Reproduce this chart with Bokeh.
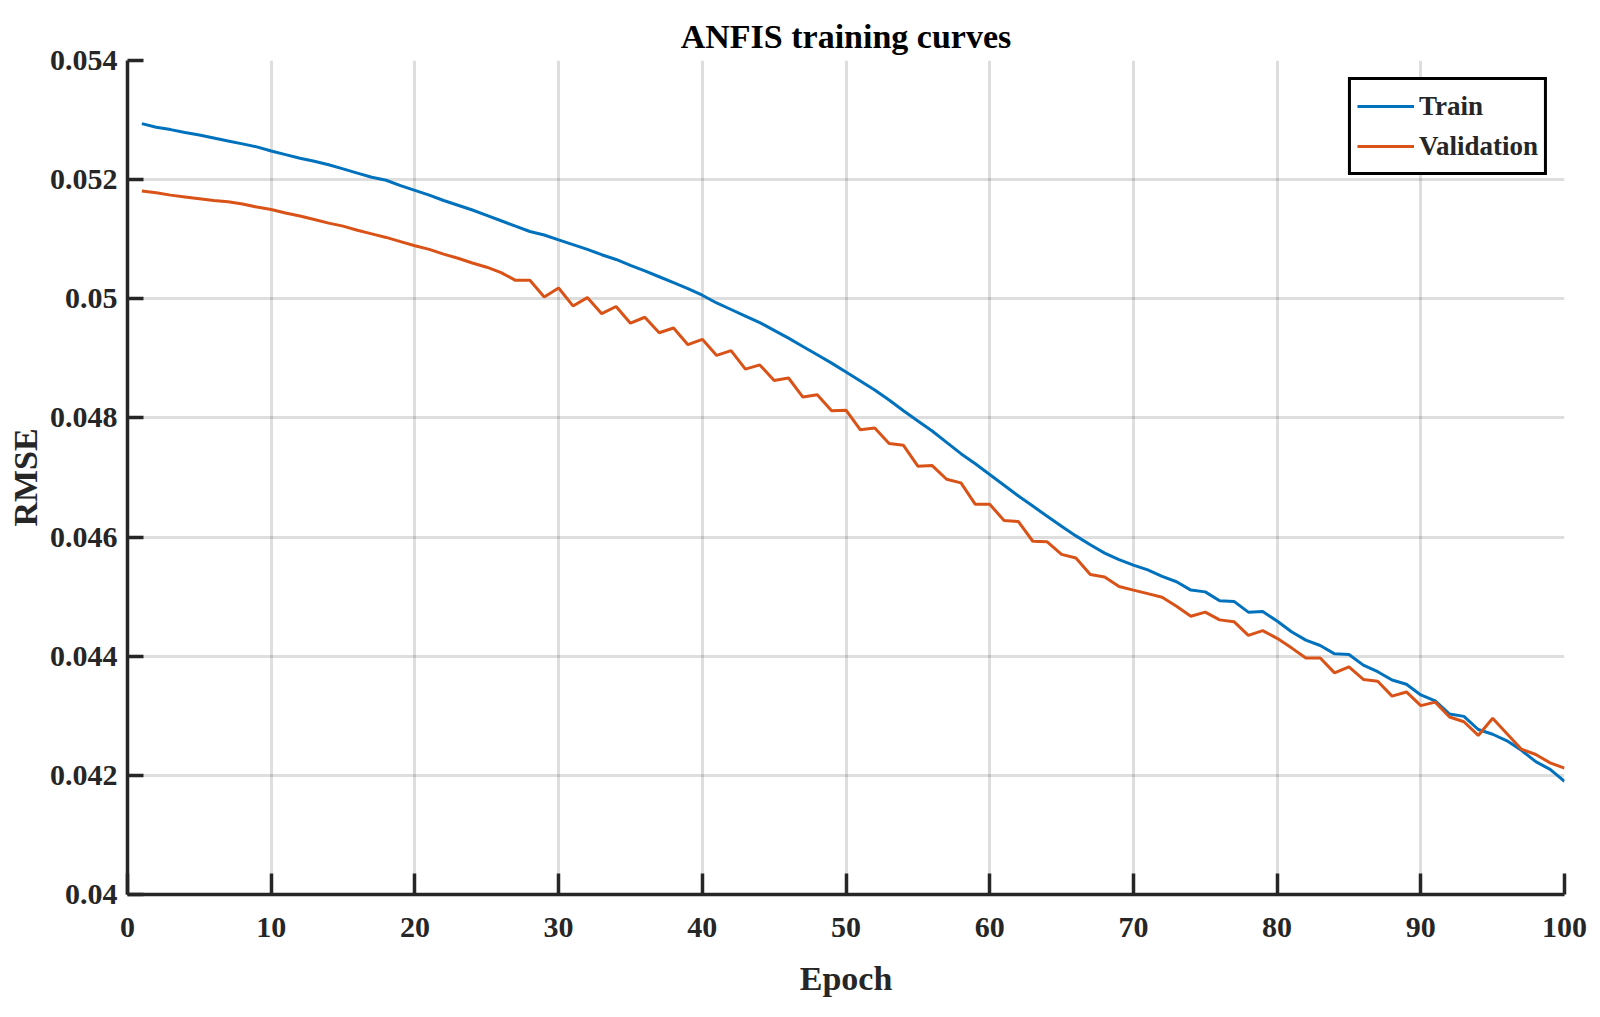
from bokeh.plotting import figure
from bokeh.models import FixedTicker, CustomJSTickFormatter, Range1d, Legend, LegendItem
from bokeh.embed import file_html
from bokeh.resources import INLINE

TITLE = "ANFIS training curves"
X_LABEL = "Epoch"
Y_LABEL = "RMSE"
SERIES_NAMES = ["Train", "Validation"]

epochs = list(range(1, 101))

train = [
    0.05294, 0.05288, 0.05284, 0.05279, 0.05275, 0.05270, 0.05265, 0.05260, 0.05255, 0.05248,
    0.05242, 0.05236, 0.05231, 0.05225, 0.05218, 0.05211, 0.05204, 0.05199, 0.05190, 0.05182,
    0.05174, 0.05165, 0.05157, 0.05149, 0.05140, 0.05131, 0.05122, 0.05113, 0.05107, 0.05099,
    0.05091, 0.05083, 0.05074, 0.05066, 0.05056, 0.05047, 0.05037, 0.05027, 0.05017, 0.05006,
    0.04993, 0.04982, 0.04971, 0.04960, 0.04947, 0.04934, 0.04920, 0.04906, 0.04892, 0.04877,
    0.04862, 0.04847, 0.04830, 0.04812, 0.04795, 0.04778, 0.04759, 0.04740, 0.04723, 0.04705,
    0.04687, 0.04669, 0.04652, 0.04635, 0.04618, 0.04602, 0.04587, 0.04573, 0.04562, 0.04553,
    0.04545, 0.04534, 0.04525, 0.04511, 0.04508, 0.04493, 0.04492, 0.04474, 0.04475, 0.04459,
    0.04441, 0.04427, 0.04418, 0.04404, 0.04403, 0.04385, 0.04374, 0.04360, 0.04353, 0.04335,
    0.04325, 0.04303, 0.04299, 0.04277, 0.04269, 0.04258, 0.04242, 0.04223, 0.04210, 0.04190,
]

validation = [
    0.05181, 0.05178, 0.05174, 0.05171, 0.05168, 0.05165, 0.05163, 0.05159, 0.05154, 0.05150,
    0.05144, 0.05139, 0.05133, 0.05127, 0.05122, 0.05115, 0.05109, 0.05103, 0.05096, 0.05089,
    0.05083, 0.05075, 0.05068, 0.05060, 0.05053, 0.05044, 0.05031, 0.05031, 0.05003, 0.05018,
    0.04988, 0.05002, 0.04975, 0.04987, 0.04959, 0.04969, 0.04943, 0.04951, 0.04923, 0.04932,
    0.04905, 0.04913, 0.04882, 0.04889, 0.04863, 0.04867, 0.04835, 0.04839, 0.04812, 0.04813,
    0.04780, 0.04783, 0.04757, 0.04754, 0.04719, 0.04720, 0.04697, 0.04691, 0.04655, 0.04655,
    0.04628, 0.04626, 0.04593, 0.04592, 0.04571, 0.04565, 0.04537, 0.04533, 0.04517, 0.04511,
    0.04505, 0.04499, 0.04484, 0.04467, 0.04474, 0.04461, 0.04458, 0.04435, 0.04443, 0.04430,
    0.04414, 0.04397, 0.04397, 0.04372, 0.04382, 0.04361, 0.04358, 0.04333, 0.04340, 0.04317,
    0.04323, 0.04298, 0.04290, 0.04267, 0.04296, 0.04270, 0.04244, 0.04235, 0.04221, 0.04212,
]

X_TICKS = [0, 10, 20, 30, 40, 50, 60, 70, 80, 90, 100]
Y_TICKS = [0.040, 0.042, 0.044, 0.046, 0.048, 0.050, 0.052, 0.054]

FONT = "Liberation Serif"
AX_COL = "#262626"

p = figure(
    width=1600, height=1012,
    x_range=Range1d(0, 100), y_range=Range1d(0.040, 0.054),
    output_backend="svg", toolbar_location=None,
    min_border_left=127, min_border_right=36, min_border_top=60, min_border_bottom=118,
)
p.outline_line_color = None
p.background_fill_color = "white"
p.border_fill_color = "white"

p.title.text = TITLE
p.title.align = "center"
p.title.text_font = FONT
p.title.text_font_style = "bold"
p.title.text_font_size = "34px"
p.title.text_color = "#000000"
p.title.offset = 0
p.title.standoff = 12

r_train = p.line(epochs, train, line_color="#0072BD", line_width=3)
r_val = p.line(epochs, validation, line_color="#D95319", line_width=3)

p.xaxis.ticker = FixedTicker(ticks=X_TICKS)
p.yaxis.ticker = FixedTicker(ticks=Y_TICKS)
p.yaxis.formatter = CustomJSTickFormatter(code="return Number(tick.toFixed(3)).toString();")

for ax in (p.xaxis[0], p.yaxis[0]):
    ax.axis_line_color = AX_COL
    ax.axis_line_width = 3.5
    ax.major_tick_line_color = AX_COL
    ax.major_tick_line_width = 3.5
    ax.major_tick_out = 0
    ax.minor_tick_line_color = None
    ax.major_label_text_font = FONT
    ax.major_label_text_font_style = "bold"
    ax.major_label_text_font_size = "30px"
    ax.major_label_text_color = AX_COL
    ax.axis_label_text_font = FONT
    ax.axis_label_text_font_style = "bold"
    ax.axis_label_text_font_size = "34px"
    ax.axis_label_text_color = AX_COL

p.xaxis.major_tick_in = 21
p.yaxis.major_tick_in = 16
p.xaxis.axis_label = X_LABEL
p.yaxis.axis_label = Y_LABEL
p.xaxis.major_label_standoff = 23
p.yaxis.major_label_standoff = 10
p.xaxis.axis_label_standoff = 20
p.yaxis.axis_label_standoff = 3

for g in (p.xgrid[0], p.ygrid[0]):
    g.grid_line_color = "#000000"
    g.grid_line_alpha = 0.13
    g.grid_line_width = 3
p.xgrid.ticker = FixedTicker(ticks=X_TICKS)
p.ygrid.ticker = FixedTicker(ticks=Y_TICKS)

legend = Legend(
    items=[LegendItem(label=SERIES_NAMES[0], renderers=[r_train]),
           LegendItem(label=SERIES_NAMES[1], renderers=[r_val])],
    location="top_right",
)
legend.margin = 17
legend.padding = 6
legend.spacing = 0
legend.glyph_width = 57
legend.glyph_height = 40
legend.label_height = 40
legend.label_standoff = 5
legend.label_text_font = FONT
legend.label_text_font_style = "bold"
legend.label_text_font_size = "27px"
legend.label_text_color = AX_COL
legend.border_line_color = "#000000"
legend.border_line_alpha = 1.0
legend.border_line_width = 3.5
legend.background_fill_color = "white"
legend.background_fill_alpha = 1.0
p.add_layout(legend, "center")

open("out.html", "w").write(file_html(p, INLINE))
